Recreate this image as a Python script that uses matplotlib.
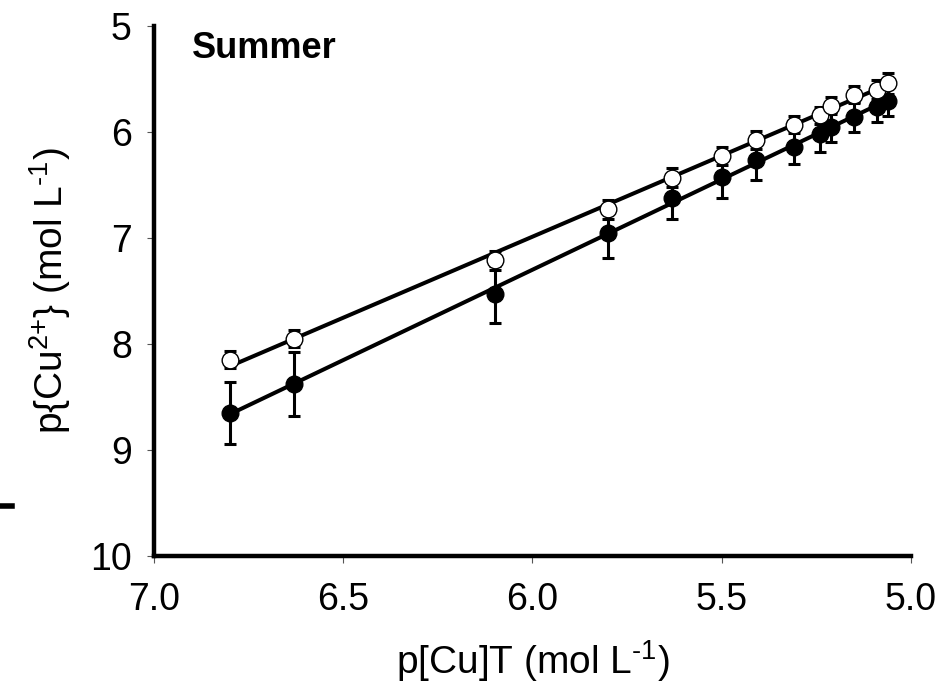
import numpy as np
import matplotlib
matplotlib.use('Agg')
from matplotlib import pyplot as plt
from matplotlib.lines import Line2D

plt.rcParams['font.family'] = ['Liberation Sans', 'DejaVu Sans']
plt.rcParams['mathtext.fontset'] = 'custom'
plt.rcParams['mathtext.rm'] = 'Liberation Sans'
plt.rcParams['mathtext.it'] = 'Liberation Sans:italic'

# p[Cu]T (x) and p{Cu2+} (y)
pcu_total = [6.80, 6.63, 6.10, 5.80, 5.63, 5.50, 5.41, 5.31, 5.24, 5.21, 5.15, 5.09, 5.06]
# filled circles
pcu_filled = [8.65, 8.38, 7.53, 6.95, 6.62, 6.42, 6.26, 6.14, 6.02, 5.95, 5.86, 5.76, 5.71]
err_filled = [0.29, 0.30, 0.27, 0.24, 0.20, 0.20, 0.19, 0.16, 0.17, 0.14, 0.14, 0.15, 0.14]
# open circles
pcu_open = [8.15, 7.95, 7.21, 6.73, 6.43, 6.23, 6.08, 5.93, 5.84, 5.75, 5.65, 5.60, 5.54]
err_open = [0.08, 0.08, 0.09, 0.09, 0.09, 0.085, 0.085, 0.08, 0.08, 0.08, 0.08, 0.09, 0.10]

x = np.asarray(pcu_total)

fig = plt.figure(figsize=(9.41, 6.99), dpi=100)
ax = fig.add_axes([0.1637, 0.2046, 0.8043, 0.7582])

for yv, ev, face in [(pcu_filled, err_filled, 'black'), (pcu_open, err_open, 'white')]:
    yv = np.asarray(yv)
    k, b = np.polyfit(x, yv, 1)
    xl = np.array([x.max(), x.min()])
    ax.plot(xl, k * xl + b, color='black', lw=2.9, zorder=2, solid_capstyle='butt')
    ax.errorbar(x, yv, yerr=ev, fmt='none', ecolor='black', elinewidth=2.2,
                capsize=4.5, capthick=2.2, zorder=3)
    ax.plot(x, yv, 'o', ms=12, mfc=face, mec='black', mew=1.0, zorder=4)

ax.set_xlim(7.0, 5.0)
ax.set_ylim(10, 5)
ax.set_xticks([7.0, 6.5, 6.0, 5.5, 5.0])
ax.set_xticklabels(['7.0', '6.5', '6.0', '5.5', '5.0'])
ax.set_yticks([5, 6, 7, 8, 9, 10])

for s in ['top', 'right']:
    ax.spines[s].set_visible(False)
for s in ['left', 'bottom']:
    ax.spines[s].set_linewidth(3.2)
    ax.spines[s].set_capstyle('projecting')

ax.tick_params(axis='both', direction='out', length=5, width=0.8, color='#555555',
               labelsize=27)
ax.tick_params(axis='x', pad=14)
ax.tick_params(axis='y', pad=11)

ax.set_xlabel('p[Cu]T (mol L$^{\\mathregular{\u20101}}$)', fontsize=28, labelpad=14)
ax.set_ylabel('p{Cu$^{\\mathregular{2{+}}}$} (mol L$^{\\mathregular{\u20101}}$)', fontsize=28,
              labelpad=12)

ax.text(0.05, 0.99, 'Summer', transform=ax.transAxes, fontsize=26,
        fontweight='bold', va='top', ha='left')

# stray dash at left edge of the original figure
fig.add_artist(Line2D([0, 12 / 941], [1 - 506 / 699] * 2, color='black', lw=4))

plt.savefig('out.png', dpi=100)
plt.close()
